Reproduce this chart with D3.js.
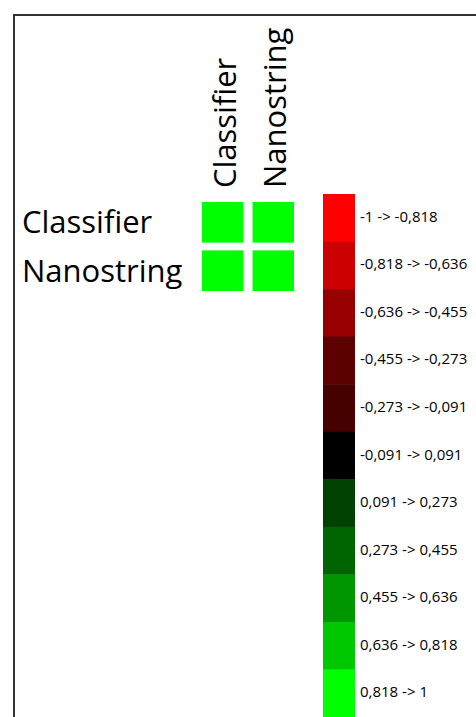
<!DOCTYPE html>
<html>
<head>
<meta charset="utf-8">
<script src="https://cdn.jsdelivr.net/npm/d3@7"></script>
<style>
  body { margin: 0; background: #fff; }
  svg { display: block; }
</style>
</head>
<body>
<script>
'use strict';

// correlation matrix (rows x cols)
var rowNames = ['Classifier', 'Nanostring'];
var colNames = ['Classifier', 'Nanostring'];
var matrix = [
  [1, 1],
  [1, 1]
];

// legend bins
var binEdges = [-0.818, -0.636, -0.455, -0.273, -0.091, 0.091, 0.273, 0.455, 0.636, 0.818];
var binLabels = [
  '-1 -> -0,818', '-0,818 -> -0,636', '-0,636 -> -0,455', '-0,455 -> -0,273',
  '-0,273 -> -0,091', '-0,091 -> 0,091', '0,091 -> 0,273', '0,273 -> 0,455',
  '0,455 -> 0,636', '0,636 -> 0,818', '0,818 -> 1'
];
var binColors = [
  '#ff0000', '#cc0000', '#960000', '#5c0000', '#460000', '#000000',
  '#004000', '#006400', '#009600', '#00c800', '#00ff00'
];

var W = 476, H = 717;
var svg = d3.select('body').append('svg').attr('width', W).attr('height', H);

// frame
svg.append('rect')
  .attr('x', 14).attr('y', 15)
  .attr('width', W + 20).attr('height', H + 20)
  .attr('fill', 'none').attr('stroke', '#333').attr('stroke-width', 2);

var color = d3.scaleThreshold().domain(binEdges).range(binColors);

var x = d3.scaleBand().domain(colNames).range([202, 294]).paddingInner(0.18);
var y = d3.scaleBand().domain(rowNames).range([202, 291]).paddingInner(0.16);

var cells = [];
matrix.forEach(function (row, i) {
  row.forEach(function (v, j) {
    cells.push({ r: rowNames[i], c: colNames[j], v: v });
  });
});

svg.selectAll('rect.cell')
  .data(cells)
  .enter()
  .append('rect')
  .attr('class', 'cell')
  .attr('x', function (d) { return x(d.c); })
  .attr('y', function (d) { return y(d.r); })
  .attr('width', x.bandwidth())
  .attr('height', y.bandwidth())
  .attr('fill', function (d) { return color(d.v); });

var font = '"Open Sans", "Noto Sans", sans-serif';

svg.selectAll('text.row')
  .data(rowNames)
  .enter()
  .append('text')
  .attr('class', 'row')
  .attr('x', 22)
  .attr('y', function (d) { return y(d) + y.bandwidth() / 2 + 11; })
  .attr('font-family', font)
  .attr('font-size', 31)
  .attr('fill', '#000')
  .text(function (d) { return d; });

svg.selectAll('text.col')
  .data(colNames)
  .enter()
  .append('text')
  .attr('class', 'col')
  .attr('transform', function (d) {
    return 'translate(' + (x(d) + x.bandwidth() / 2 + 13) + ',188) rotate(-90)';
  })
  .attr('font-family', font)
  .attr('font-size', 31)
  .attr('fill', '#000')
  .text(function (d) { return d; });

// legend
var ly = d3.scaleBand().domain(binLabels).range([194, 717]);

svg.selectAll('rect.key')
  .data(binLabels)
  .enter()
  .append('rect')
  .attr('class', 'key')
  .attr('x', 323)
  .attr('y', function (d) { return ly(d); })
  .attr('width', 32)
  .attr('height', ly.bandwidth() + 0.5)
  .attr('fill', function (d, i) { return binColors[i]; });

svg.selectAll('text.key')
  .data(binLabels)
  .enter()
  .append('text')
  .attr('class', 'key')
  .attr('x', 360)
  .attr('y', function (d) { return ly(d) + ly.bandwidth() / 2 + 4; })
  .attr('font-family', font)
  .attr('font-size', 15)
  .attr('fill', '#000')
  .text(function (d) { return d; });
</script>
</body>
</html>
